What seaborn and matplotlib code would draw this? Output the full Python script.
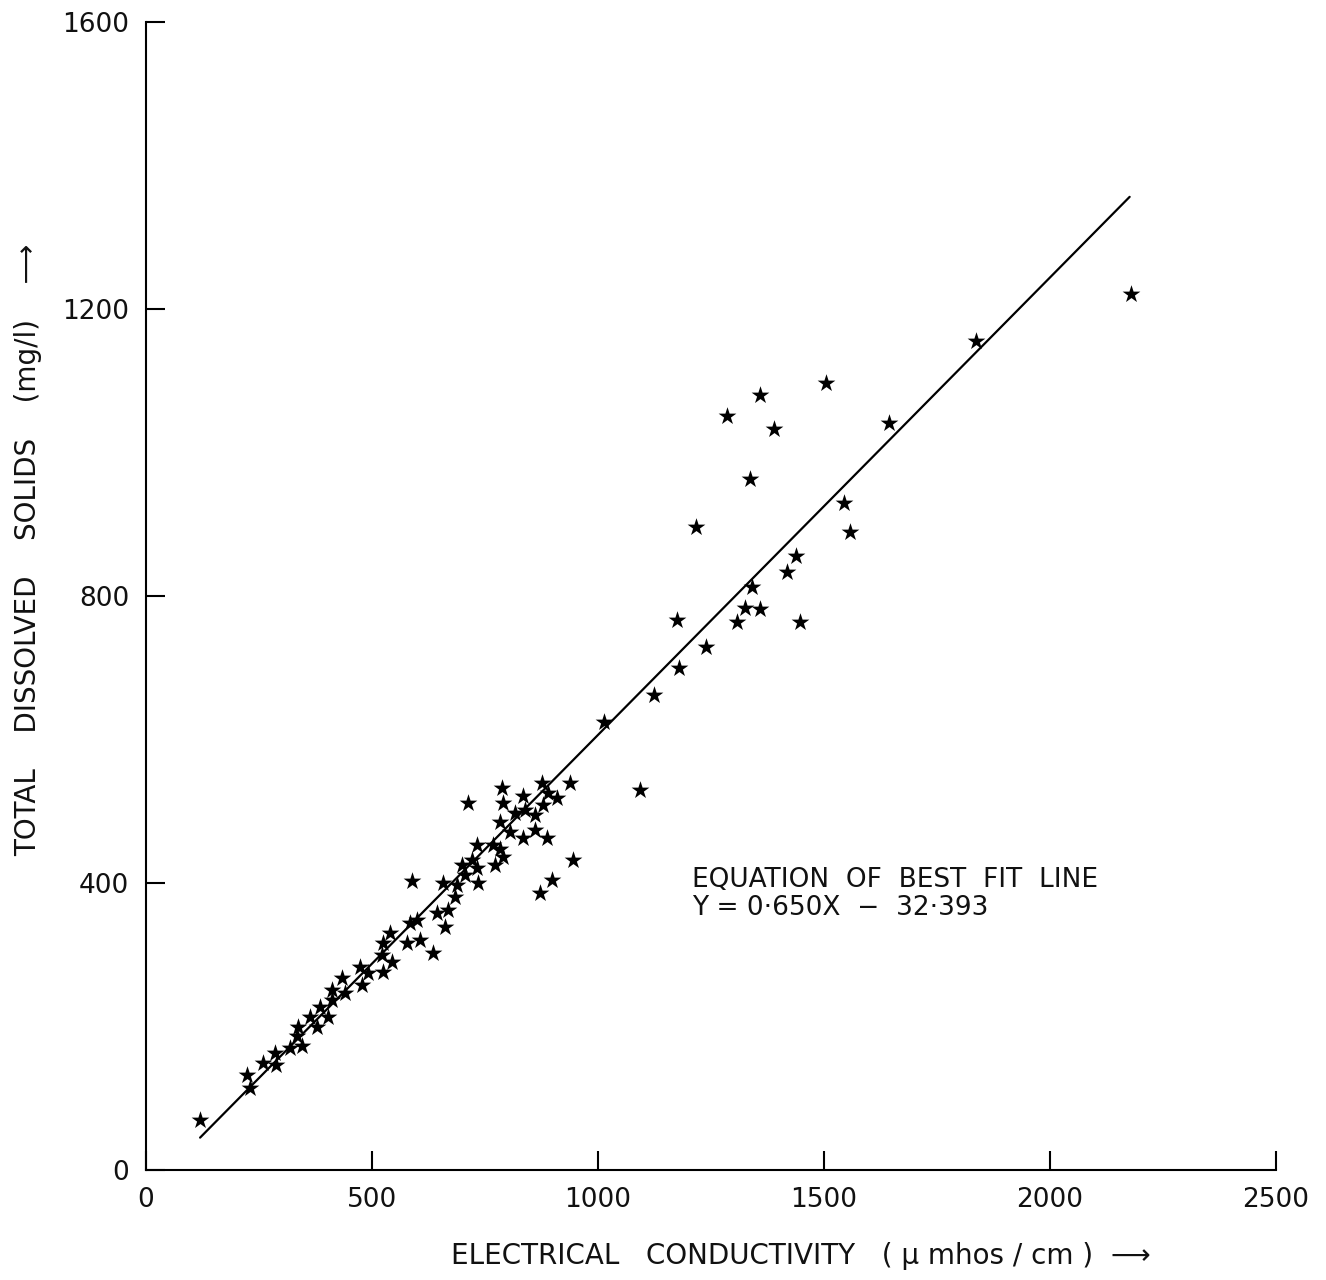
import numpy as np
import pandas as pd
import matplotlib
matplotlib.use("Agg")
import matplotlib.pyplot as plt
import seaborn as sns

# electrical conductivity (umhos/cm) and total dissolved solids (mg/l)
ec = [119, 223, 230, 259, 285, 288, 319, 336, 334, 345, 363, 378, 385, 403, 411, 411,
      434, 440, 473, 478, 491, 524, 522, 524, 544, 540, 577, 584, 600, 606, 635, 644, 588,
      661, 668, 684, 657, 688, 706, 699, 721, 732, 735, 732, 768, 783, 790, 772, 712,
      783, 805, 834, 861, 887, 816, 838, 861, 879, 889, 909, 834, 788, 790, 876, 938,
      945, 898, 872,
      1013, 1093, 1124, 1175, 1179, 1217, 1239, 1285, 1308, 1325, 1336, 1341, 1358,
      1358, 1389, 1418, 1438, 1447, 1504, 1546, 1558, 1644, 1838, 2181]
tds = [70, 132, 114, 149, 163, 146, 170, 199, 186, 172, 213, 199, 227, 213, 251, 237,
       267, 246, 283, 258, 274, 276, 300, 316, 290, 330, 316, 344, 348, 321, 302, 358, 403,
       339, 362, 381, 400, 397, 411, 425, 432, 421, 400, 453, 453, 447, 436, 425, 512,
       485, 471, 463, 474, 463, 497, 502, 494, 508, 525, 518, 521, 532, 512, 539, 539,
       432, 404, 386,
       624, 530, 662, 767, 700, 896, 729, 1051, 764, 783, 963, 813, 782,
       1080, 1032, 833, 856, 764, 1096, 930, 889, 1041, 1155, 1221]

# best fit line as drawn
fit_x = [120, 2177]
fit_y = [45, 1356]

x_ticks = [0, 500, 1000, 1500, 2000, 2500]
y_ticks = [0, 400, 800, 1200, 1600]

sns.set_style("ticks")
plt.rcParams['font.family'] = ['DejaVu Sans']

fig = plt.figure(figsize=(13.26, 12.8), dpi=100)
ax = fig.add_axes([0.110, 0.086, 0.852, 0.897])

df = pd.DataFrame({"EC": ec, "TDS": tds})
sns.lineplot(x=fit_x, y=fit_y, color="black", linewidth=1.6, ax=ax)
sns.scatterplot(data=df, x="EC", y="TDS", marker="*", s=180, color="black",
                linewidth=0, ax=ax)

ax.set_xlim(0, 2500)
ax.set_ylim(0, 1600)
ax.set_xticks(x_ticks)
ax.set_yticks(y_ticks)
ax.tick_params(direction="in", length=14, width=1.5, labelsize=19, pad=12,
               color="black", labelcolor="#111111")
sns.despine(ax=ax)
for s in ["left", "bottom"]:
    ax.spines[s].set_linewidth(1.5)
    ax.spines[s].set_color("black")

ax.set_xlabel("ELECTRICAL   CONDUCTIVITY   ( µ mhos / cm )  ⟶", fontsize=20,
              color="#111111")
ax.set_ylabel("TOTAL    DISSOLVED    SOLIDS    (mg/l)    ⟶", fontsize=20,
              color="#111111")
ax.xaxis.set_label_coords(0.58, -0.063)
ax.yaxis.set_label_coords(-0.092, 0.54)

ax.text(1208, 422, "EQUATION  OF  BEST  FIT  LINE\nY = 0·650X  −  32·393", fontsize=19,
        va="top", ha="left", color="#111111", linespacing=1.1)

fig.savefig("out.png", dpi=100, facecolor="white")
